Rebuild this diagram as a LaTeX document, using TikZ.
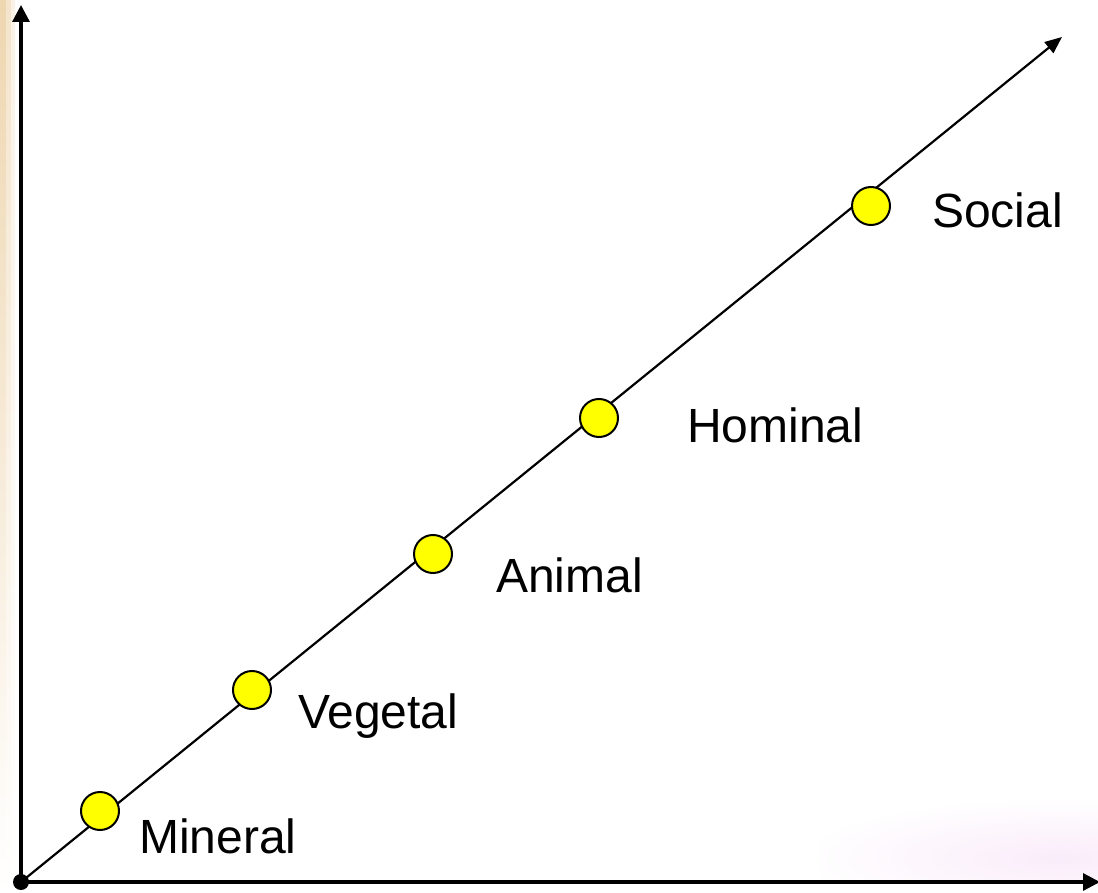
\documentclass[tikz,border=0pt]{standalone}
\usepackage{fontspec}
\setmainfont{Liberation Sans}
\usetikzlibrary{arrows.meta}
\definecolor{tanA}{RGB}{238,214,176}
\definecolor{tanB}{RGB}{244,228,204}
\definecolor{tanC}{RGB}{250,242,230}
\definecolor{pinkA}{RGB}{250,236,250}
\definecolor{dotyellow}{RGB}{255,255,0}
\tikzset{
  axis/.style={line width=3.2pt, -{Triangle[length=17pt,width=17pt]}},
  diag/.style={line width=2.2pt, -{Triangle[length=17pt,width=14pt]}},
  stage/.style={circle, draw=black, line width=2pt, fill=dotyellow, minimum size=38pt, inner sep=0pt},
  lab/.style={anchor=base west, inner sep=0pt, font=\fontsize{48}{58}\selectfont},
  origin/.style={circle, fill=black, minimum size=16pt, inner sep=0pt}
}
\begin{document}
\begin{tikzpicture}[x=1pt,y=-1pt]
\useasboundingbox (0,0) rectangle (1098,893);
% background tints
\shade[top color=tanA, bottom color=white] (0,0) rectangle (6,893);
\shade[top color=tanB, bottom color=white] (6,0) rectangle (11,893);
\shade[top color=tanC, bottom color=white] (11,0) rectangle (15,893);
\begin{scope}
\clip (820,790) rectangle (1098,879);
\shade[inner color=pinkA, outer color=white] (1060,858) ellipse [x radius=260pt, y radius=60pt];
\end{scope}
% coordinates
\node[origin] (O) at (21,882) {};
\coordinate (ytip) at (21,5);
\coordinate (xtip) at (1100,882);
\coordinate (dtip) at (1062,37);
% axes
\draw[axis] (O.center) -- (ytip);
\draw[axis] (O.center) -- (xtip);
\draw[diag] (O.center) -- (dtip);
% stages
\node[stage] (mineral) at (100,811) {};
\node[stage] (vegetal) at (252,690) {};
\node[stage] (animal) at (433,554) {};
\node[stage] (hominal) at (599,418) {};
\node[stage] (social) at (871,206) {};
% labels
\node[lab] (tmineral) at (139,853) {Mineral};
\node[lab] (tvegetal) at (298,728) {Vegetal};
\node[lab] (tanimal) at (496,592) {Animal};
\node[lab] (thominal) at (687,442) {Hominal};
\node[lab] (tsocial) at (932,228) {Social};
\end{tikzpicture}
\end{document}
